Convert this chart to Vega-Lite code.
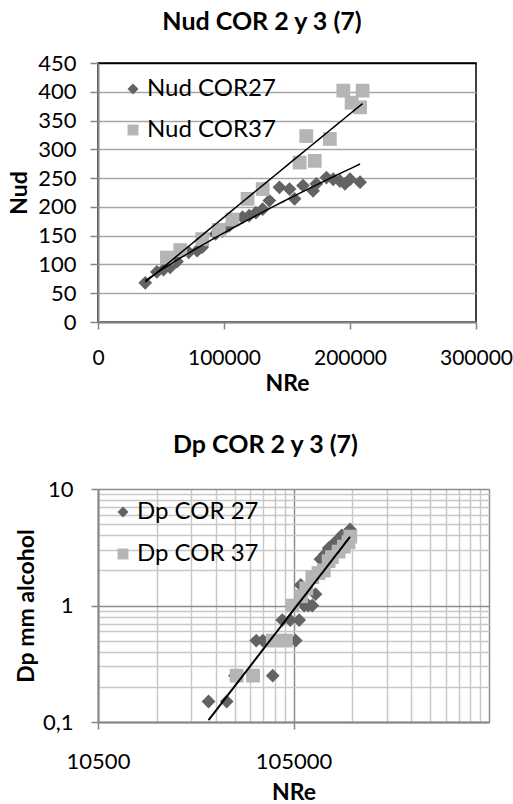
{
  "$schema": "https://vega.github.io/schema/vega-lite/v6.json",
  "padding": {"left": 7, "top": 9, "right": 0, "bottom": 0},
  "background": "white",
  "config": {
    "font": "Lato",
    "view": {"stroke": null},
    "axis": {
      "labelFont": "Lato", "labelFontSize": 22, "labelColor": "black",
      "titleFont": "Lato", "titleFontSize": 23, "titleFontWeight": "bold", "titleColor": "black",
      "domainColor": "#868686", "domainWidth": 2, "tickColor": "#868686", "tickWidth": 1.5,
      "gridColor": "#a6a6a6", "gridWidth": 1.5,
      "labelOverlap": false, "labelBound": false, "labelFlush": false
    },
    "title": {"font": "Lato", "fontSize": 25, "fontWeight": "bold", "color": "black"},
    "legend": {"labelFont": "Lato", "labelFontSize": 24, "labelColor": "black"}
  },
  "datasets": {
    "nud": [
      {"NRe": 37500, "Nud": 68, "serie": "Nud COR27"},
      {"NRe": 46700, "Nud": 87, "serie": "Nud COR27"},
      {"NRe": 52000, "Nud": 91, "serie": "Nud COR27"},
      {"NRe": 57300, "Nud": 95, "serie": "Nud COR27"},
      {"NRe": 62700, "Nud": 105, "serie": "Nud COR27"},
      {"NRe": 72000, "Nud": 121, "serie": "Nud COR27"},
      {"NRe": 78700, "Nud": 124, "serie": "Nud COR27"},
      {"NRe": 82700, "Nud": 130, "serie": "Nud COR27"},
      {"NRe": 93300, "Nud": 153, "serie": "Nud COR27"},
      {"NRe": 98700, "Nud": 158, "serie": "Nud COR27"},
      {"NRe": 104000, "Nud": 167, "serie": "Nud COR27"},
      {"NRe": 114700, "Nud": 182, "serie": "Nud COR27"},
      {"NRe": 120000, "Nud": 185, "serie": "Nud COR27"},
      {"NRe": 125300, "Nud": 190, "serie": "Nud COR27"},
      {"NRe": 130700, "Nud": 196, "serie": "Nud COR27"},
      {"NRe": 136000, "Nud": 211, "serie": "Nud COR27"},
      {"NRe": 144000, "Nud": 234, "serie": "Nud COR27"},
      {"NRe": 152000, "Nud": 231, "serie": "Nud COR27"},
      {"NRe": 156000, "Nud": 214, "serie": "Nud COR27"},
      {"NRe": 162700, "Nud": 237, "serie": "Nud COR27"},
      {"NRe": 170700, "Nud": 228, "serie": "Nud COR27"},
      {"NRe": 173300, "Nud": 240, "serie": "Nud COR27"},
      {"NRe": 181300, "Nud": 251, "serie": "Nud COR27"},
      {"NRe": 186700, "Nud": 248, "serie": "Nud COR27"},
      {"NRe": 192000, "Nud": 245, "serie": "Nud COR27"},
      {"NRe": 196000, "Nud": 240, "serie": "Nud COR27"},
      {"NRe": 200000, "Nud": 248, "serie": "Nud COR27"},
      {"NRe": 208000, "Nud": 243, "serie": "Nud COR27"},
      {"NRe": 54700, "Nud": 112, "serie": "Nud COR37"},
      {"NRe": 65300, "Nud": 125, "serie": "Nud COR37"},
      {"NRe": 82700, "Nud": 144, "serie": "Nud COR37"},
      {"NRe": 96000, "Nud": 160, "serie": "Nud COR37"},
      {"NRe": 106700, "Nud": 178, "serie": "Nud COR37"},
      {"NRe": 118700, "Nud": 214, "serie": "Nud COR37"},
      {"NRe": 130700, "Nud": 231, "serie": "Nud COR37"},
      {"NRe": 160000, "Nud": 277, "serie": "Nud COR37"},
      {"NRe": 165300, "Nud": 323, "serie": "Nud COR37"},
      {"NRe": 172000, "Nud": 280, "serie": "Nud COR37"},
      {"NRe": 184000, "Nud": 318, "serie": "Nud COR37"},
      {"NRe": 194700, "Nud": 402, "serie": "Nud COR37"},
      {"NRe": 201300, "Nud": 381, "serie": "Nud COR37"},
      {"NRe": 208000, "Nud": 373, "serie": "Nud COR37"},
      {"NRe": 210000, "Nud": 402, "serie": "Nud COR37"}
    ],
    "dp": [
      {"NRe": 38600, "Dp": 0.15, "serie": "Dp COR 27"},
      {"NRe": 47800, "Dp": 0.15, "serie": "Dp COR 27"},
      {"NRe": 52700, "Dp": 0.25, "serie": "Dp COR 27"},
      {"NRe": 82200, "Dp": 0.25, "serie": "Dp COR 27"},
      {"NRe": 67700, "Dp": 0.5, "serie": "Dp COR 27"},
      {"NRe": 73200, "Dp": 0.5, "serie": "Dp COR 27"},
      {"NRe": 107800, "Dp": 0.5, "serie": "Dp COR 27"},
      {"NRe": 92000, "Dp": 0.75, "serie": "Dp COR 27"},
      {"NRe": 101000, "Dp": 0.75, "serie": "Dp COR 27"},
      {"NRe": 112300, "Dp": 0.75, "serie": "Dp COR 27"},
      {"NRe": 119000, "Dp": 1.0, "serie": "Dp COR 27"},
      {"NRe": 125000, "Dp": 1.0, "serie": "Dp COR 27"},
      {"NRe": 131000, "Dp": 1.0, "serie": "Dp COR 27"},
      {"NRe": 136100, "Dp": 1.25, "serie": "Dp COR 27"},
      {"NRe": 114300, "Dp": 1.5, "serie": "Dp COR 27"},
      {"NRe": 144200, "Dp": 2.5, "serie": "Dp COR 27"},
      {"NRe": 152000, "Dp": 2.75, "serie": "Dp COR 27"},
      {"NRe": 158800, "Dp": 3.1, "serie": "Dp COR 27"},
      {"NRe": 171700, "Dp": 3.5, "serie": "Dp COR 27"},
      {"NRe": 185500, "Dp": 4.0, "serie": "Dp COR 27"},
      {"NRe": 204400, "Dp": 4.5, "serie": "Dp COR 27"},
      {"NRe": 53700, "Dp": 0.25, "serie": "Dp COR 37"},
      {"NRe": 65200, "Dp": 0.25, "serie": "Dp COR 37"},
      {"NRe": 82200, "Dp": 0.5, "serie": "Dp COR 37"},
      {"NRe": 96000, "Dp": 0.5, "serie": "Dp COR 37"},
      {"NRe": 103800, "Dp": 1.0, "serie": "Dp COR 37"},
      {"NRe": 115000, "Dp": 1.2, "serie": "Dp COR 37"},
      {"NRe": 122000, "Dp": 1.4, "serie": "Dp COR 37"},
      {"NRe": 131000, "Dp": 1.75, "serie": "Dp COR 37"},
      {"NRe": 141000, "Dp": 1.9, "serie": "Dp COR 37"},
      {"NRe": 150000, "Dp": 2.0, "serie": "Dp COR 37"},
      {"NRe": 158800, "Dp": 2.4, "serie": "Dp COR 37"},
      {"NRe": 165000, "Dp": 2.6, "serie": "Dp COR 37"},
      {"NRe": 178600, "Dp": 2.9, "serie": "Dp COR 37"},
      {"NRe": 190000, "Dp": 3.2, "serie": "Dp COR 37"},
      {"NRe": 200600, "Dp": 3.5, "serie": "Dp COR 37"},
      {"NRe": 205000, "Dp": 3.9, "serie": "Dp COR 37"}
    ]
  },
  "resolve": {"scale": {"color": "independent", "shape": "independent"}},
  "spacing": 37,
  "vconcat": [
    {
      "title": {"text": "Nud COR 2 y 3 (7)", "offset": 17, "dx": -25},
      "width": 378,
      "height": 259,
      "view": {"stroke": "black", "strokeWidth": 1.5},
      "data": {"name": "nud"},
      "encoding": {
        "x": {"field": "NRe", "type": "quantitative",
          "scale": {"domain": [0, 300000], "nice": false},
          "axis": {"title": "NRe", "values": [0, 100000, 200000, 300000], "format": "d", "grid": false, "tickSize": 7, "labelPadding": 18, "titlePadding": 4, "labelOverlap": false, "labelFontSize": 21}},
        "y": {"field": "Nud", "type": "quantitative",
          "scale": {"domain": [0, 450], "nice": false},
          "axis": {"title": "Nud", "values": [0, 50, 100, 150, 200, 250, 300, 350, 400, 450], "tickSize": 8, "labelPadding": 14, "titlePadding": 6, "labelOverlap": false,
            "gridColor": {"condition": {"test": "datum.value == 450", "value": "black"}, "value": "#a6a6a6"}}}
      },
      "layer": [
        {
          "mark": {"type": "point", "filled": true, "opacity": 1, "size": 190},
          "encoding": {
            "shape": {"field": "serie", "type": "nominal",
              "scale": {"domain": ["Nud COR27", "Nud COR37"], "range": ["diamond", "square"]},
              "legend": {"title": null, "orient": "none", "legendX": 23, "legendY": 14, "rowPadding": 17, "symbolSize": 120, "labelOffset": 2}},
            "color": {"field": "serie", "type": "nominal",
              "scale": {"domain": ["Nud COR27", "Nud COR37"], "range": ["#636363", "#b5b5b5"]},
              "legend": {"title": null, "orient": "none", "legendX": 23, "legendY": 14, "rowPadding": 17, "symbolSize": 120, "labelOffset": 2}}
          }
        },
        {
          "transform": [{"filter": "datum.serie == 'Nud COR27'"}, {"regression": "Nud", "on": "NRe", "method": "pow"}],
          "mark": {"type": "line", "color": "black", "strokeWidth": 1.5}
        },
        {
          "transform": [{"filter": "datum.serie == 'Nud COR37'"}, {"regression": "Nud", "on": "NRe", "method": "pow", "extent": [37500, 210000]}],
          "mark": {"type": "line", "color": "black", "strokeWidth": 1.5}
        }
      ]
    },
    {
      "title": {"text": "Dp COR 2 y 3 (7)", "offset": 20, "dx": -28},
      "width": 391,
      "height": 233,
      "data": {"name": "dp"},
      "encoding": {
        "x": {"field": "NRe", "type": "quantitative",
          "scale": {"type": "log", "domain": [10500, 1050000], "nice": false},
          "axis": {"title": "NRe",
            "values": [10500, 21000, 31500, 42000, 52500, 63000, 73500, 84000, 94500, 105000, 210000, 315000, 420000, 525000, 630000, 735000, 840000, 945000, 1050000],
            "labelExpr": "datum.value == 10500 ? '10500' : datum.value == 105000 ? '105000' : ''",
            "tickSize": 7, "labelPadding": 22, "titlePadding": 9, "labelOverlap": false,
            "tickColor": {"condition": {"test": "datum.value == 10500 || datum.value == 105000", "value": "#868686"}, "value": "transparent"},
            "gridColor": {"condition": {"test": "datum.value == 10500 || datum.value == 105000 || datum.value == 1050000", "value": "#8c8c8c"}, "value": "#c8c8c8"}}},
        "y": {"field": "Dp", "type": "quantitative",
          "scale": {"type": "log", "domain": [0.1, 10], "nice": false},
          "axis": {"title": "Dp mm alcohol",
            "values": [0.1, 0.2, 0.3, 0.4, 0.5, 0.6, 0.7, 0.8, 0.9, 1, 2, 3, 4, 5, 6, 7, 8, 9, 10],
            "labelExpr": "datum.value == 0.1 ? '0,1' : datum.value == 1 ? '1' : datum.value == 10 ? '10' : ''",
            "tickSize": 7, "labelPadding": 18, "titlePadding": 4, "labelOverlap": false,
            "tickColor": {"condition": {"test": "datum.value == 0.1 || datum.value == 1 || datum.value == 10", "value": "#868686"}, "value": "transparent"},
            "gridColor": {"condition": {"test": "datum.value == 0.1 || datum.value == 1 || datum.value == 10", "value": "#8c8c8c"}, "value": "#c8c8c8"}}}
      },
      "layer": [
        {
          "mark": {"type": "point", "filled": true, "opacity": 1, "size": 190},
          "encoding": {
            "shape": {"field": "serie", "type": "nominal",
              "scale": {"domain": ["Dp COR 27", "Dp COR 37"], "range": ["diamond", "square"]},
              "legend": {"title": null, "orient": "none", "legendX": 13, "legendY": 11, "rowPadding": 18, "symbolSize": 120, "labelOffset": 2}},
            "color": {"field": "serie", "type": "nominal",
              "scale": {"domain": ["Dp COR 27", "Dp COR 37"], "range": ["#636363", "#b5b5b5"]},
              "legend": {"title": null, "orient": "none", "legendX": 13, "legendY": 11, "rowPadding": 18, "symbolSize": 120, "labelOffset": 2}}
          }
        },
        {
          "transform": [{"filter": "datum.serie == 'Dp COR 27'"}, {"regression": "Dp", "on": "NRe", "method": "pow"}],
          "mark": {"type": "line", "color": "black", "strokeWidth": 2, "clip": true}
        }
      ]
    }
  ]
}
